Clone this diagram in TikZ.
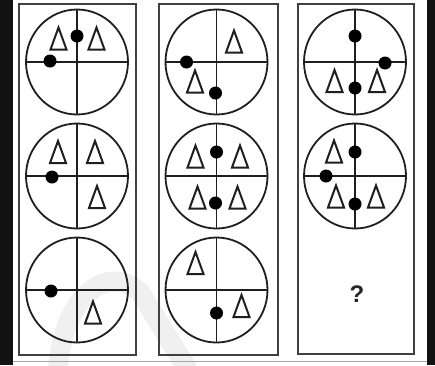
\documentclass[tikz,border=0pt]{standalone}
\usepackage{fontspec}
\setsansfont{Liberation Sans}
\begin{document}
\begin{tikzpicture}[x=1pt,y=-1pt,
  frame/.style={draw=black!75,line width=2.6pt},
  ring/.style={draw=black!88,line width=1.8pt},
  tri/.pic={\draw[black!88,fill=white,line width=2pt,line join=miter] (-8,11.5) -- (0,-10.5) -- (8,11.5) -- cycle;},
  blackdot/.pic={\fill[black] (0,0) circle[radius=6.5];},
  qring/.pic={\draw[ring] (0,0) ellipse[x radius=51,y radius=52.5];
              \draw[ring] (0,-52.5) -- (0,52.5) (-51,0) -- (51,0);}
]
\useasboundingbox (0,0) rectangle (435,365);
\fill[white] (0,0) rectangle (435,365);
% watermark
\begin{scope}
\clip (13,0) rectangle (427,365);
\draw[black!6,line width=20pt] (58,370) .. controls (62,300) and (105,262) .. (140,292) -- (188,370);
\end{scope}
% side strips
\fill[black!93] (0,0) rectangle (13,365);
\fill[black!93] (427,0) rectangle (435,365);
\draw[black!35,line width=1pt] (13,361.5) -- (427,361.5);
% panels
\draw[frame] (19,4) rectangle (136,355);
\draw[frame] (159,4) rectangle (278,355);
\draw[frame] (298,4) rectangle (414,354);
% panel 1
\begin{scope}[shift={(77,62)}]
  \pic {qring};
  \pic at (-18.5,-24) {tri}; \pic at (19.5,-24) {tri};
  \pic at (0,-26) {blackdot}; \pic at (-27,-1) {blackdot};
\end{scope}
\begin{scope}[shift={(77,176)}]
  \pic {qring};
  \pic at (-19,-24.5) {tri}; \pic at (18,-24.5) {tri}; \pic at (20,20.5) {tri};
  \pic at (-25,1) {blackdot};
\end{scope}
\begin{scope}[shift={(77,290)}]
  \pic {qring};
  \pic at (16,22) {tri};
  \pic at (-26,1) {blackdot};
\end{scope}
% panel 2
\begin{scope}[shift={(216.5,62)}]
  \pic {qring};
  \pic at (17.5,-21) {tri}; \pic at (-21.5,19) {tri};
  \pic at (-30,0) {blackdot}; \pic at (-1,31) {blackdot};
\end{scope}
\begin{scope}[shift={(216.5,176)}]
  \pic {qring};
  \pic at (-21,-20) {tri}; \pic at (23.5,-20) {tri};
  \pic at (-19,21) {tri}; \pic at (21,21) {tri};
  \pic at (0,-24) {blackdot}; \pic at (-1,27) {blackdot};
\end{scope}
\begin{scope}[shift={(216.5,290)}]
  \pic {qring};
  \pic at (-21,-27.5) {tri}; \pic at (25,15.5) {tri};
  \pic at (0,23) {blackdot};
\end{scope}
% panel 3
\begin{scope}[shift={(355,62)}]
  \pic {qring};
  \pic at (-20.5,18.5) {tri}; \pic at (22,18.5) {tri};
  \pic at (0,-26) {blackdot}; \pic at (30,1) {blackdot}; \pic at (0,26) {blackdot};
\end{scope}
\begin{scope}[shift={(355,176)}]
  \pic {qring};
  \pic at (-21,-25) {tri}; \pic at (-19,20) {tri}; \pic at (21,20) {tri};
  \pic at (0,-24) {blackdot}; \pic at (-29,0) {blackdot}; \pic at (0,28) {blackdot};
\end{scope}
\node[font=\sffamily\bfseries\fontsize{24}{24}\selectfont,text=black!85] (q) at (357,294) {?};
\end{tikzpicture}
\end{document}
